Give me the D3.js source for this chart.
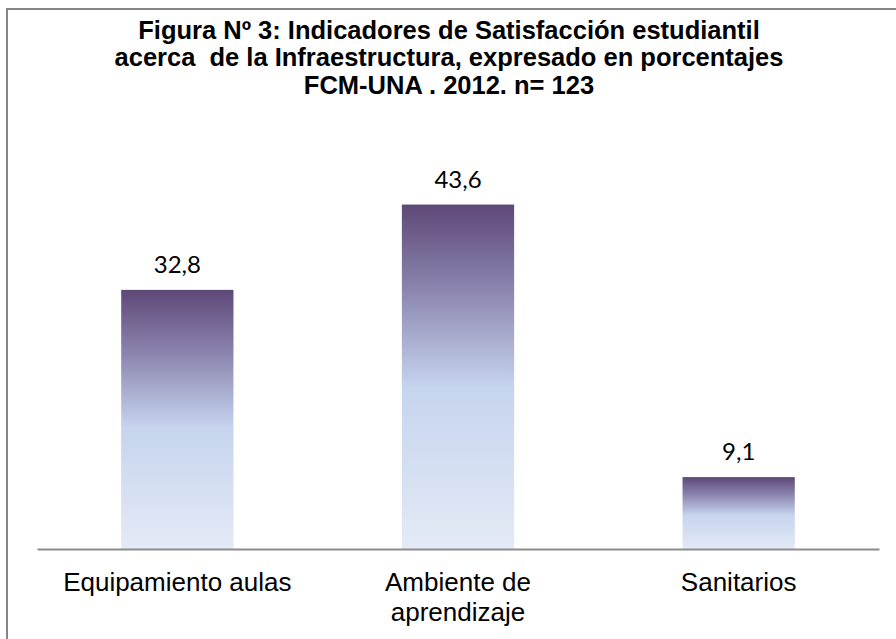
<!DOCTYPE html>
<html><head><meta charset="utf-8">
<script src="https://cdn.jsdelivr.net/npm/d3@7"></script>
<style>html,body{margin:0;padding:0;background:#fff;overflow:hidden}</style>
</head><body>
<script>
const categories = [["Equipamiento aulas"], ["Ambiente de", "aprendizaje"], ["Sanitarios"]];
const values = [32.8, 43.6, 9.1];
const valueLabels = ["32,8", "43,6", "9,1"];
const titleLines = ["Figura Nº 3: Indicadores de Satisfacción estudiantil",
  "acerca  de la Infraestructura, expresado en porcentajes",
  "FCM-UNA . 2012. n= 123"];
const yDomain = [0, 50];

const W = 896, H = 639;
const svg = d3.select("body").append("svg").attr("width", W).attr("height", H);

const defs = svg.append("defs");
const grad = defs.append("linearGradient").attr("id", "barGrad")
  .attr("x1", 0).attr("y1", 0).attr("x2", 0).attr("y2", 1);
[[0, "#5e4878"], [0.25, "#8c86af"], [0.53, "#c6d4ee"], [1, "#e4eaf6"]].forEach(([o, c]) =>
  grad.append("stop").attr("offset", o).attr("stop-color", c));

// chart frame
svg.append("rect").attr("x", 7).attr("y", 9).attr("width", W + 20).attr("height", H + 20)
  .attr("fill", "#fff").attr("stroke", "#868686").attr("stroke-width", 2);

const x = d3.scaleBand().domain(d3.range(categories.length)).range([37, 879]).paddingInner(0.6).paddingOuter(0.3);
const y = d3.scaleLinear().domain(yDomain).range([549, 154]);

// title
const title = svg.append("text").attr("text-anchor", "middle")
  .attr("font-family", "'Liberation Sans', Arial, sans-serif").attr("font-weight", "bold")
  .attr("font-size", 25.5).attr("fill", "#000").style("white-space", "pre");
titleLines.forEach((t, i) => title.append("tspan").attr("x", 449).attr("y", 38.5 + i * 27.5).text(t));

// bars
svg.append("g").selectAll("rect").data(values).join("rect")
  .attr("x", (d, i) => x(i)).attr("width", x.bandwidth())
  .attr("y", d => y(d)).attr("height", d => y(0) - y(d))
  .attr("fill", "url(#barGrad)");

// value labels
svg.append("g").selectAll("text").data(values).join("text")
  .attr("x", (d, i) => x(i) + x.bandwidth() / 2).attr("y", d => y(d) - 17)
  .attr("text-anchor", "middle").attr("font-family", "Lato, 'Open Sans', sans-serif")
  .attr("font-size", 24).attr("fill", "#000")
  .text((d, i) => valueLabels[i]);

// x axis
const xAxis = d3.axisBottom(x).tickSize(0).tickFormat("");
const ax = svg.append("g").attr("transform", `translate(0,${y(0)})`).call(xAxis);
ax.select(".domain").attr("stroke", "#8c8c8c").attr("stroke-width", 2);

// category labels
const cl = svg.append("g").selectAll("text").data(categories).join("text")
  .attr("text-anchor", "middle").attr("font-family", "'Liberation Sans', Arial, sans-serif")
  .attr("font-size", 26).attr("fill", "#000");
cl.each(function(lines, i) {
  lines.forEach((t, j) => d3.select(this).append("tspan")
    .attr("x", x(i) + x.bandwidth() / 2).attr("y", 591 + j * 30).text(t));
});
</script>
</body></html>
